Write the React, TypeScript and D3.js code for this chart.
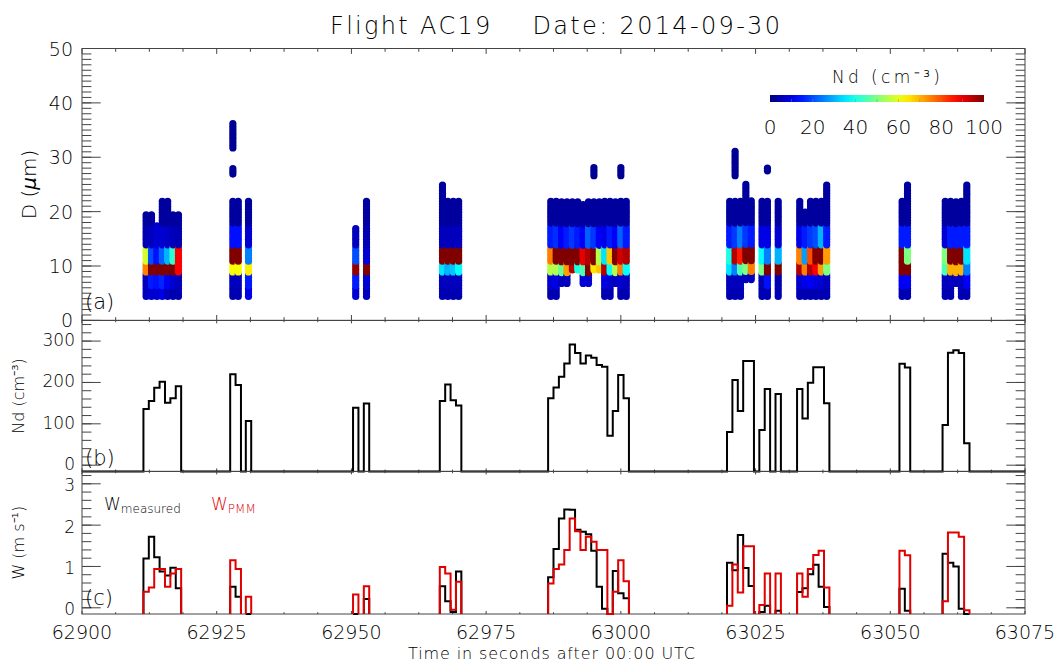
import React from 'react';
import * as d3 from 'd3';

// ---------- data ----------
// 1-s time bins (bin centres, seconds after 00:00 UTC)
const binTime = [
  62911.9, 62912.9, 62913.9, 62914.9, 62915.9, 62916.9, 62917.9,
  62928.0, 62929.0, 62930.9,
  62950.8, 62952.8,
  62966.9, 62967.9, 62968.9, 62969.9,
  62987.0, 62988.0, 62989.0, 62990.0, 62991.0, 62992.0, 62993.0, 62994.0, 62995.0, 62996.0, 62997.0, 62998.0, 62999.0, 63000.0, 63001.0,
  63020.2, 63021.2, 63022.2, 63023.2, 63024.2,
  63026.2, 63027.2,
  63029.2,
  63033.2, 63034.2, 63035.2, 63036.2, 63037.2, 63038.2,
  63052.2, 63053.2,
  63060.2, 63061.2, 63062.2, 63063.2, 63064.2,
];
// panel (b) total droplet number concentration (cm^-3)
const ndTotal = [
  136, 155, 187, 202, 151, 162, 191,
  220, 194, 107,
  139, 149,
  155, 195, 157, 144,
  162, 188, 214, 246, 292, 271, 246, 265, 260, 242, 238, 71, 131, 218, 162,
  80, 206, 131, 252, 252,
  85, 184,
  172,
  184, 113, 199, 237, 237, 150,
  245, 236,
  97, 272, 278, 271, 53,
];
// panel (c) vertical velocity (m s^-1); null = no valid value
const wMeasured: (number | null)[] = [
  1.19, 1.72, 1.22, 0.88, 0.78, 0.97, 0.47,
  0.51, 0.27, null,
  null, 0.21,
  0.52, 0.16, -0.10, 0.88,
  0.74, 1.42, 2.16, 2.38, 2.37, 1.89, 1.84, 1.78, 1.38, 0.51, -0.02, null, 0.89, 0.35, 0.23,
  1.09, 0.91, 1.76, 0.96, 0.53,
  -0.10, 0.05,
  -0.07,
  0.38, 0.47, 0.81, 1.04, 0.51, 0.02,
  0.46, -0.07,
  1.31, 1.09, 1.00, -0.02, null,
];
const wPMM: (number | null)[] = [
  0.39, 0.49, 0.94, 0.94, 0.51, 0.83, 0.94,
  1.15, 0.94, 0.27,
  0.32, 0.52,
  0.99, 0.83, -0.05, 0.63,
  0.59, 0.94, 1.05, 1.40, 2.16, 1.85, 1.40, 1.72, 1.60, 1.40, 1.40, null, 0.39, 1.15, 0.64,
  0.05, 1.05, 0.37, 1.49, 1.49,
  0.07, 0.83,
  0.83,
  0.83, 0.27, 0.94, 1.28, 1.38, 0.49,
  1.38, 1.27,
  0.16, 1.82, 1.82, 1.72, -0.06,
];

// panel (a): size-resolved concentration per column (same bins as binTime)
// diameter bands (µm): low2 <6.2, low1 <8.7, G <10.6, R <13.6, B <17.6, U above
const bandEdges = [6.2, 8.7, 10.6, 13.6, 17.6];
const colTop = [
  19.4, 19.4, 17.4, 22.3, 22.3, 19.4, 19.4,
  22.2, 22.2, 22.2,
  17.0, 22.2,
  25.0, 22.2, 22.2, 22.2,
  22.1, 22.1, 22.1, 22.1, 22.1, 22.1, 21.4, 22.1, 22.1, 22.1, 22.1, 22.1, 22.1, 22.1, 22.1,
  22.1, 22.1, 22.1, 25.2, 22.1,
  22.1, 22.1,
  22.1,
  22.1, 20.0, 22.1, 22.1, 22.1, 25.2,
  22.1, 25.2,
  22.1, 22.1, 22.1, 22.1, 25.2,
];
const colBottom = [
  4.4, 4.4, 4.4, 4.4, 4.4, 4.4, 4.4,
  4.4, 4.4, 4.4,
  4.4, 4.4,
  4.4, 4.4, 4.4, 4.4,
  4.4, 4.4, 6.8, 6.8, 9.3, 9.3, 6.8, 6.8, 9.3, 9.3, 4.4, 4.4, 6.8, 4.4, 4.4,
  4.4, 4.4, 4.4, 7.5, 7.5,
  4.4, 4.4,
  4.4,
  4.4, 4.4, 4.4, 4.4, 4.4, 4.4,
  4.4, 4.4,
  4.4, 4.4, 6.8, 4.4, 4.4,
];
const ndLow2 = [
  6, 8, 8, 10, 6, 5, 5,
  5, 5, 10,
  8, 6,
  5, 5, 5, 5,
  5, 5, 5, 5, 5, 5, 5, 5, 5, 5, 5, 5, 5, 5, 5,
  5, 5, 5, 5, 5,
  5, 5,
  5,
  5, 5, 5, 5, 5, 5,
  5, 5,
  5, 5, 5, 5, 5,
];
const ndLow1 = [
  6, 15, 14, 16, 12, 8, 6,
  6, 6, 15,
  15, 8,
  6, 6, 6, 6,
  8, 10, 6, 6, 6, 6, 8, 8, 6, 6, 10, 8, 6, 8, 6,
  6, 6, 6, 6, 6,
  5, 14,
  5,
  8, 10, 12, 10, 8, 6,
  12, 12,
  6, 6, 6, 6, 12,
];
const ndG = [
  75, 100, 100, 100, 100, 100, 88,
  62, 62, 64,
  98, 100,
  35, 30, 32, 38,
  55, 55, 48, 72, 95, 40, 45, 100, 65, 68, 95, 38, 55, 75, 38,
  35, 25, 45, 50, 75,
  50, 100,
  100,
  95, 75, 95, 88, 72, 50,
  100, 100,
  45, 70, 70, 70, 25,
];
const ndR = [
  58, 20, 14, 22, 30, 42, 88,
  100, 100, 25,
  20, 8,
  100, 100, 100, 100,
  75, 100, 100, 100, 100, 100, 90, 95, 100, 55, 35, 68, 100, 92, 95,
  40, 95, 85, 100, 100,
  38, 25,
  30,
  75, 28, 80, 100, 100, 72,
  100, 50,
  50, 100, 100, 100, 35,
];
const ndB = [
  5, 6, 8, 8, 7, 6, 5,
  14, 14, 8,
  6, 5,
  6, 6, 6, 6,
  15, 17, 12, 15, 18, 15, 12, 22, 18, 12, 10, 15, 12, 22, 15,
  15, 18, 25, 18, 15,
  10, 10,
  8,
  10, 15, 18, 20, 30, 15,
  15, 15,
  8, 15, 15, 15, 15,
];
const ndU = binTime.map(() => 3);
// isolated large-droplet dots
const extraTime = [62928.0, 62928.0, 62995.0, 63000.0, 63021.2, 63027.2];
const extraD0 = [31.7, 26.9, 26.6, 26.6, 26.6, 27.5];
const extraD1 = [36.6, 28.3, 28.3, 28.3, 31.3, 28.3];
const extraNd = [2, 2, 2, 2, 2, 2];

const xTicks = [62900, 62925, 62950, 62975, 63000, 63025, 63050, 63075];
const aTicks = [0, 10, 20, 30, 40, 50];
const bTicks = [0, 100, 200, 300];
const cTicks = [0, 1, 2, 3];
const cbTicks = [0, 20, 40, 60, 80, 100];

// ---------- layout ----------
const W = 1054, H = 663;
const L = 82, R = 1025;
const PA = { top: 48.5, bottom: 320.4 };
const PB = { top: 320.4, bottom: 471.4 };
const PC = { top: 471.4, bottom: 614 };
const FONT = '"DejaVu Sans", "Liberation Sans", sans-serif';
const FW = 300;
const YMAJ = 18.7, YMIN = 9.4;

const x = d3.scaleLinear().domain([62900, 63075]).range([L, R]);
const ya = d3.scaleLinear().domain([0, 50]).range([PA.bottom, PA.top]);
const yb = d3.scaleLinear().domain([-15, 350]).range([PB.bottom, PB.top]);
const yc = d3.scaleLinear().domain([-0.15, 3.3]).range([PC.bottom, PC.top]);
const cb = d3.scaleLinear().domain([0, 100]).range([770, 984]);

function jet(v: number) {
  const t = Math.max(0, Math.min(1, v / 100));
  const c = (u: number) => Math.max(0, Math.min(1, 1.5 - Math.abs(u)));
  return d3.rgb(c(4 * t - 3) * 255, c(4 * t - 2) * 255, c(4 * t - 1) * 255).formatHex();
}

function bandValue(i: number, D: number) {
  if (D < bandEdges[0]) return ndLow2[i];
  if (D < bandEdges[1]) return ndLow1[i];
  if (D < bandEdges[2]) return ndG[i];
  if (D < bandEdges[3]) return ndR[i];
  if (D < bandEdges[4]) return ndB[i];
  return ndU[i];
}

const lineStep = d3.line<[number, number]>().curve(d3.curveStepAfter);

function ndPath() {
  const y0 = yb.domain()[0];
  const pts: [number, number][] = [[x(62900), yb(y0)]];
  let prevEnd = 62900;
  binTime.forEach((t, i) => {
    const s = t - 0.5;
    if (s > prevEnd + 0.05) pts.push([x(prevEnd), yb(y0)]);
    pts.push([x(s), yb(ndTotal[i])]);
    prevEnd = t + 0.5;
  });
  pts.push([x(prevEnd), yb(y0)]);
  pts.push([x(63075), yb(y0)]);
  return lineStep(pts) as string;
}

function wPaths(vals: (number | null)[]) {
  const y0 = yc.domain()[0];
  const groups: number[][] = [];
  binTime.forEach((t, i) => {
    const g = groups[groups.length - 1];
    if (g && Math.abs(t - binTime[g[g.length - 1]] - 1) < 0.05) g.push(i);
    else groups.push([i]);
  });
  return groups.map((g) => {
    const pts: [number, number][] = [[x(binTime[g[0]] - 0.5), yc(y0)]];
    g.forEach((i) => pts.push([x(binTime[i] - 0.5), yc(vals[i] ?? y0)]));
    pts.push([x(binTime[g[g.length - 1]] + 0.5), yc(y0)]);
    return lineStep(pts) as string;
  });
}

function Frame({ top, bottom, y, major, minor, xLen }:
  { top: number; bottom: number; y: d3.ScaleLinear<number, number>; major: number[]; minor: number[]; xLen: number }) {
  const xMinor = d3.range(62900, 63075.01, 6.25);
  return (
    <g stroke="#444" strokeWidth={1} fill="none">
      <rect x={L} y={top} width={R - L} height={bottom - top} />
      {minor.map((v) => (
        <g key={'mi' + v}>
          <line x1={L} x2={L + YMIN} y1={y(v)} y2={y(v)} />
          <line x1={R} x2={R - YMIN} y1={y(v)} y2={y(v)} />
        </g>
      ))}
      {major.map((v) => (
        <g key={'ma' + v}>
          <line x1={L} x2={L + YMAJ} y1={y(v)} y2={y(v)} />
          <line x1={R} x2={R - YMAJ} y1={y(v)} y2={y(v)} />
        </g>
      ))}
      {xMinor.map((t) => {
        const isMaj = xTicks.includes(t);
        const len = isMaj ? xLen : xLen * 0.6;
        return (
          <g key={'x' + t}>
            <line x1={x(t)} x2={x(t)} y1={bottom} y2={bottom - len} />
            <line x1={x(t)} x2={x(t)} y1={top} y2={top + len} />
          </g>
        );
      })}
    </g>
  );
}

export default function App() {
  const dots: JSX.Element[] = [];
  binTime.forEach((t, i) => {
    for (let D = colBottom[i]; D <= colTop[i] + 1e-6; D += 0.5) {
      dots.push(<circle key={`c${i}-${D.toFixed(2)}`} cx={x(t)} cy={ya(D)} r={3.6} fill={jet(bandValue(i, D))} />);
    }
  });
  extraTime.forEach((t, k) => {
    for (let D = extraD0[k]; D <= extraD1[k] + 1e-6; D += 0.5) {
      dots.push(<circle key={`e${k}-${D.toFixed(2)}`} cx={x(t)} cy={ya(D)} r={3.6} fill={jet(extraNd[k])} />);
    }
  });

  const gradStops = d3.range(0, 1.0001, 0.05);

  return (
    <svg width={W} height={H} style={{ position: 'absolute', left: 0, top: 0, background: '#fff' }}
      fontFamily={FONT} fontWeight={FW}>
      <defs>
        <linearGradient id="jetgrad" x1="0" x2="1" y1="0" y2="0">
          {gradStops.map((s) => (
            <stop key={s} offset={s} stopColor={jet(s * 100)} />
          ))}
        </linearGradient>
      </defs>
      <rect x={0} y={0} width={W} height={H} fill="#fff" />

      {/* title */}
      <text x={330} y={34} fontSize={24} fill="#000" xmlSpace="preserve" textLength={450} lengthAdjust="spacing">
        Flight AC19    Date: 2014-09-30
      </text>

      {/* panel a */}
      <g>{dots}</g>
      <Frame top={PA.top} bottom={PA.bottom} y={ya} major={aTicks} minor={d3.range(0, 51, 1)} xLen={5.4} />
      {aTicks.map((v) => (
        <text key={'al' + v} x={73} y={ya(v) + 7} fontSize={19} textAnchor="end" fill="#000">{v}</text>
      ))}
      <text transform={`translate(36,${ya(25)}) rotate(-90)`} fontSize={20} textAnchor="middle" fill="#000">
        D (<tspan fontStyle="italic">μ</tspan>m)
      </text>
      <text x={85} y={309} fontSize={21} fill="#000">(a)</text>

      {/* colour bar */}
      <text x={832} y={83} fontSize={17} fill="#000" textLength={108} lengthAdjust="spacing">Nd (cm⁻³)</text>
      <rect x={cb(0)} y={95} width={cb(100) - cb(0)} height={7} fill="url(#jetgrad)" />
      {d3.range(10, 100, 10).map((v) => (
        <line key={'cbt' + v} x1={cb(v)} x2={cb(v)} y1={99} y2={102} stroke="#888" strokeOpacity={0.5} />
      ))}
      {cbTicks.map((v) => (
        <text key={'cb' + v} x={cb(v)} y={134} fontSize={20} textAnchor="middle" fill="#000">{v}</text>
      ))}

      {/* panel b */}
      <Frame top={PB.top} bottom={PB.bottom} y={yb} major={bTicks} minor={d3.range(0, 341, 20)} xLen={3} />
      <path d={ndPath()} fill="none" stroke="#000" strokeWidth={2} />
      {bTicks.map((v) => (
        <text key={'bl' + v} x={75} y={yb(v) + 5} fontSize={17} textAnchor="end" fill="#000">{v}</text>
      ))}
      <text transform={`translate(24,${(PB.top + PB.bottom) / 2}) rotate(-90)`} fontSize={16} textAnchor="middle" fill="#000">
        Nd (cm⁻³)
      </text>
      <text x={85} y={465} fontSize={21} fill="#000">(b)</text>

      {/* panel c */}
      <Frame top={PC.top} bottom={PC.bottom} y={yc} major={cTicks} minor={d3.range(0, 3.21, 0.2)} xLen={3} />
      {wPaths(wMeasured).map((d, k) => (
        <path key={'wm' + k} d={d} fill="none" stroke="#000" strokeWidth={2} />
      ))}
      {wPaths(wPMM).map((d, k) => (
        <path key={'wp' + k} d={d} fill="none" stroke="#e00000" strokeWidth={2} />
      ))}
      {cTicks.map((v) => (
        <text key={'cl' + v} x={75} y={yc(v) + 7.5} fontSize={17} textAnchor="end" fill="#000">{v}</text>
      ))}
      <text transform={`translate(24,${(PC.top + PC.bottom) / 2}) rotate(-90)`} fontSize={16} textAnchor="middle" fill="#000">
        W (m s⁻¹)
      </text>
      <text x={85} y={605} fontSize={21} fill="#000">(c)</text>
      <text x={104} y={510} fontSize={17} fill="#000">W<tspan fontSize={12} dy={3}>measured</tspan></text>
      <text x={211} y={510} fontSize={17} fill="#e00000">W<tspan fontSize={12} dy={3}>PMM</tspan></text>

      {/* x axis */}
      {xTicks.map((t) => (
        <text key={'xl' + t} x={x(t)} y={639} fontSize={19} textAnchor="middle" fill="#000">{t}</text>
      ))}
      <text x={408} y={659} fontSize={16} fill="#000" textLength={287} lengthAdjust="spacing">Time in seconds after 00:00 UTC</text>
    </svg>
  );
}
